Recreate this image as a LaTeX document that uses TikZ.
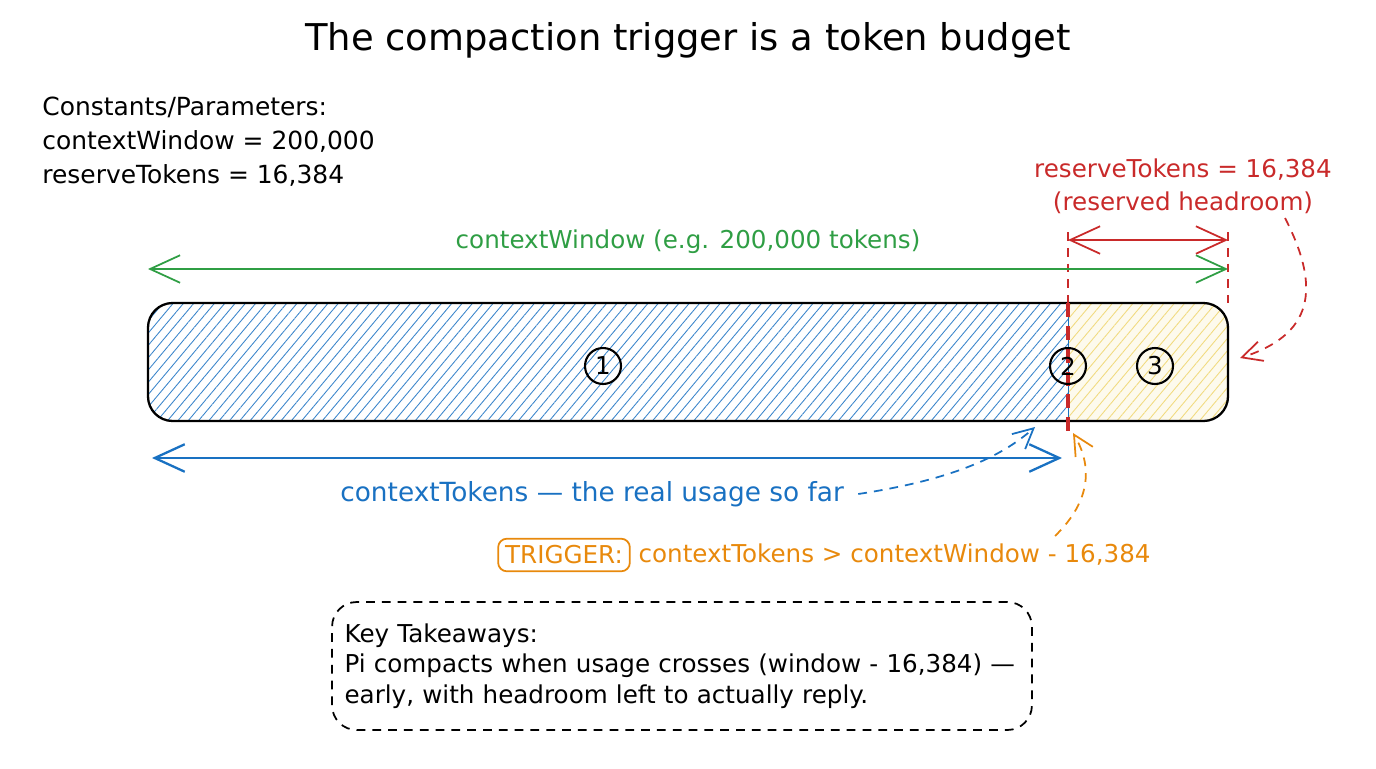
\documentclass[tikz,border=0pt]{standalone}
\usepackage{fontspec}
\setmainfont{DejaVu Sans}
\usetikzlibrary{arrows.meta,patterns.meta,positioning}
\definecolor{skgreen}{HTML}{2F9E44}
\definecolor{skblue}{HTML}{1971C2}
\definecolor{skred}{HTML}{C92A2A}
\definecolor{skorange}{HTML}{E8890C}
\definecolor{skyellow}{HTML}{EBCB4A}
\tikzset{
    num/.style={circle, draw, line width=1.2pt, minimum size=7.2mm, inner sep=0pt, font=\fontsize{14}{16}\selectfont},
    dim/.style={line width=1pt, {Straight Barb[length=6mm,width=5.5mm]}-{Straight Barb[length=6mm,width=5.5mm]}},
    pointer/.style={line width=1pt, dash pattern=on 5pt off 4pt, -{Straight Barb[length=4mm,width=4mm]}},
    lbl/.style={font=\fontsize{14}{18.7}\selectfont, inner sep=0pt},
    hatch/.style={pattern={Lines[angle=50,distance=4.5pt,line width=0.5pt]}}
}
\begin{document}
\begin{tikzpicture}[x=0.02cm, y=-0.02cm]
    \useasboundingbox (0,0) rectangle (1376,768);
    % Title
    \node[font=\fontsize{21}{25}\selectfont] (title) at (688,40) {The compaction trigger is a token budget};

    % Constants
    \node[lbl, font=\fontsize{14.2}{19.3}\selectfont, align=left, anchor=north west] (consts) at (42,97)
        {Constants/Parameters:\\contextWindow = 200,000\\reserveTokens = 16,384};

    % Bar
    \coordinate (barNW) at (148,303);
    \coordinate (barSE) at (1228,421);
    \coordinate (cut) at (1068,303);
    \begin{scope}
        \clip[rounded corners=14pt] (barNW) rectangle (barSE);
        \fill[hatch, pattern color=skblue!85] (barNW) rectangle (1068,421);
        \fill[skyellow!10] (cut) rectangle (barSE);
        \fill[hatch, pattern color=skyellow!70] (cut) rectangle (barSE);
    \end{scope}
    \draw[skblue, thin] (cut) -- (1068,421);
    \draw[line width=1.3pt, rounded corners=14pt] (barNW) rectangle (barSE);

    % Boundary lines
    \coordinate (cutTop) at (1068,232);
    \coordinate (cutBot) at (1068,432);
    \coordinate (endTop) at (1228,232);
    \coordinate (endBar) at (1228,303);
    \draw[skred, line width=1pt, dash pattern=on 5pt off 4pt] (cutTop) -- (cut);
    \draw[skred, line width=2.5pt, dash pattern=on 8pt off 5pt] (cut) -- (cutBot);
    \draw[skred, line width=1pt, dash pattern=on 5pt off 4pt] (endTop) -- (endBar);

    % Segments
    \node[num] (n1) at (603,366) {1};
    \node[num] (n2) at (1068,366) {2};
    \node[num] (n3) at (1155,366) {3};

    % contextWindow
    \coordinate (winL) at (148,269);
    \coordinate (winR) at (1228,269);
    \draw[dim, skgreen] (winL) -- (winR);
    \node[lbl, text=skgreen] (winlbl) at (688,242) {contextWindow (e.g. 200,000 tokens)};

    % reserveTokens
    \coordinate (resL) at (1068,240);
    \coordinate (resR) at (1228,240);
    \draw[dim, skred] (resL) -- (resR);
    \node[lbl, text=skred, align=center] (reslbl) at (1183,186) {reserveTokens = 16,384\\(reserved headroom)};
    \coordinate (resTail) at (1285,218);
    \coordinate (resHead) at (1240,358);
    \draw[pointer, skred] (resTail) .. controls (1322,290) and (1312,335) .. (resHead);

    % contextTokens
    \coordinate (useL) at (152,458);
    \coordinate (useR) at (1062,458);
    \draw[dim, skblue, line width=1.3pt] (useL) -- (useR);
    \node[lbl, font=\fontsize{15}{18.7}\selectfont, text=skblue, anchor=west] (uselbl) at (340,494) {contextTokens — the real usage so far};
    \coordinate (useHead) at (1035,427);
    \draw[pointer, skblue] ([xshift=8pt]uselbl.east) .. controls (950,480) and (1000,458) .. (useHead);

    % Trigger
    \node[lbl, text=skorange, draw=skorange, line width=1pt, rounded corners=5pt, inner sep=4pt] (trig) at (564,555) {TRIGGER:};
    \node[lbl, text=skorange, right=0.15cm of trig] (cond) {contextTokens > contextWindow - 16,384};
    \coordinate (trigTail) at (1055,536);
    \coordinate (trigHead) at (1073,433);
    \draw[pointer, skorange] (trigTail) .. controls (1092,500) and (1092,465) .. (trigHead);

    % Takeaways
    \node[draw, line width=1pt, dash pattern=on 5pt off 4pt, rounded corners=14pt, minimum height=2.56cm,
          text width=13.5cm, inner xsep=0.25cm, align=left, font=\fontsize{14}{17.3}\selectfont] (keys) at (682,666)
        {Key Takeaways:\\Pi compacts when usage crosses (window - 16,384) —\\early, with headroom left to actually reply.};
\end{tikzpicture}
\end{document}
